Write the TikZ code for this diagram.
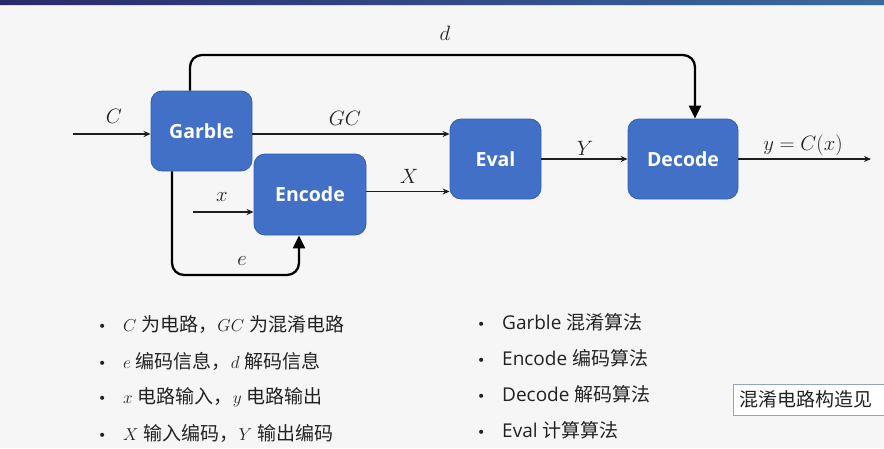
\documentclass[tikz,border=0pt]{standalone}
\usepackage[no-math]{fontspec}
\setmainfont{Open Sans}
\newfontfamily\cjk{Noto Sans CJK SC}
\newfontfamily\bul{DejaVu Sans}
\usetikzlibrary{arrows.meta,calc}
\definecolor{bgc}{HTML}{F6F6F6}
\definecolor{boxc}{HTML}{4170C6}
\definecolor{boxd}{HTML}{3560B0}
\definecolor{linec}{HTML}{1E1E1E}
\definecolor{txtc}{HTML}{222222}
\definecolor{notec}{HTML}{8FA6C4}
\definecolor{barl}{HTML}{2A2A6A}
\definecolor{barr}{HTML}{3A6A9E}
\newcommand{\bdot}{\makebox[25pt][l]{\bul\fontsize{14}{14}\selectfont •}}
\tikzset{
  blk/.style={draw=boxd, line width=0.8pt, fill=boxc, rounded corners=11pt, text=white,
    font=\fontsize{19.5}{22}\selectfont\bfseries, inner sep=0pt},
  arr/.style={draw=linec, line width=1.5pt, -{Stealth[length=7pt,width=6pt]}},
  tarr/.style={draw=black, line width=2.3pt, rounded corners=12pt, -{Triangle[length=13pt,width=12pt]}},
  lab/.style={font=\fontsize{21}{24}\selectfont, text=txtc, inner sep=0pt},
  item/.style={anchor=west, font=\fontsize{19}{23}\selectfont, text=txtc, inner sep=0pt},
}
\begin{document}
\begin{tikzpicture}[x=1pt,y=-1pt]
\useasboundingbox (0,0) rectangle (884,448);
\fill[bgc] (0,0) rectangle (884,448);
\shade[left color=barl, right color=barr] (0,0) rectangle (884,5);
\fill[gray!30] (0,5) rectangle (884,6);

% blocks
\node[blk, minimum width=101pt, minimum height=80pt] (garble) at (201.5,131) {Garble};
\node[blk, minimum width=112pt, minimum height=81pt] (encode) at (310,194.5) {Encode};
\node[blk, minimum width=91pt, minimum height=80pt] (eval) at (495.5,159) {Eval};
\node[blk, minimum width=110pt, minimum height=80pt] (decode) at (683,159) {Decode};

% connectors
\coordinate (cin) at (73,134);
\draw[arr] (cin) -- (cin -| garble.west);
\coordinate (gco) at ($(garble.east)+(0,3)$);
\draw[arr] (gco) -- (gco -| eval.west);
\coordinate (xo) at ($(encode.east)+(0,-3)$);
\draw[arr] (xo) -- (xo -| eval.west);
\coordinate (xin) at (193,212);
\draw[arr] (xin) -- (xin -| encode.west);
\draw[arr] (eval.east) -- (decode.west);
\coordinate (yout) at (871,159);
\draw[arr] (decode.east) -- (yout);

\coordinate (ea) at (172,275);
\coordinate (eb) at (299,275);
\draw[tarr] (ea |- garble.south) -- (ea) -- (eb) -- (eb |- encode.south);
\coordinate (da) at (190,55);
\coordinate (db) at (695,55);
\draw[tarr] (da |- garble.north) -- (da) -- (db) -- (db |- decode.north);

% labels
\node[lab] (lC) at (114,116) {$C$};
\node[lab] (lGC) at (345,118) {$GC$};
\node[lab] (lX) at (409,176) {$X$};
\node[lab] (lx) at (222,197) {$x$};
\node[lab] (le) at (242,261) {$e$};
\node[lab] (ld) at (445,33) {$d$};
\node[lab] (lY) at (585,148) {$Y$};
\node[lab] (ly) at (803,145) {$y=C(x)$};

% left list
\node[item] (l1) at (98,325) {\bdot$C$ {\cjk 为电路，}$GC$ {\cjk 为混淆电路}};
\node[item] (l2) at (98,361) {\bdot$e$ {\cjk 编码信息，}$d$ {\cjk 解码信息}};
\node[item] (l3) at (98,397) {\bdot$x$ {\cjk 电路输入，}$y$ {\cjk 电路输出}};
\node[item] (l4) at (98,433) {\bdot$X$ {\cjk 输入编码，}$Y$ {\cjk 输出编码}};

% right list
\node[item] (r1) at (477,322) {\bdot Garble {\cjk 混淆算法}};
\node[item] (r2) at (477,358) {\bdot Encode {\cjk 编码算法}};
\node[item] (r3) at (477,394) {\bdot Decode {\cjk 解码算法}};
\node[item] (r4) at (477,430) {\bdot Eval {\cjk 计算算法}};

% note box (running past the right edge)
\begin{scope}
\clip (0,0) rectangle (884,448);
\draw[notec, line width=1pt, fill=white] (733,384) rectangle (900,415);
\end{scope}
\node[item] (note) at (739,399.5) {\cjk 混淆电路构造见};
\end{tikzpicture}
\end{document}
